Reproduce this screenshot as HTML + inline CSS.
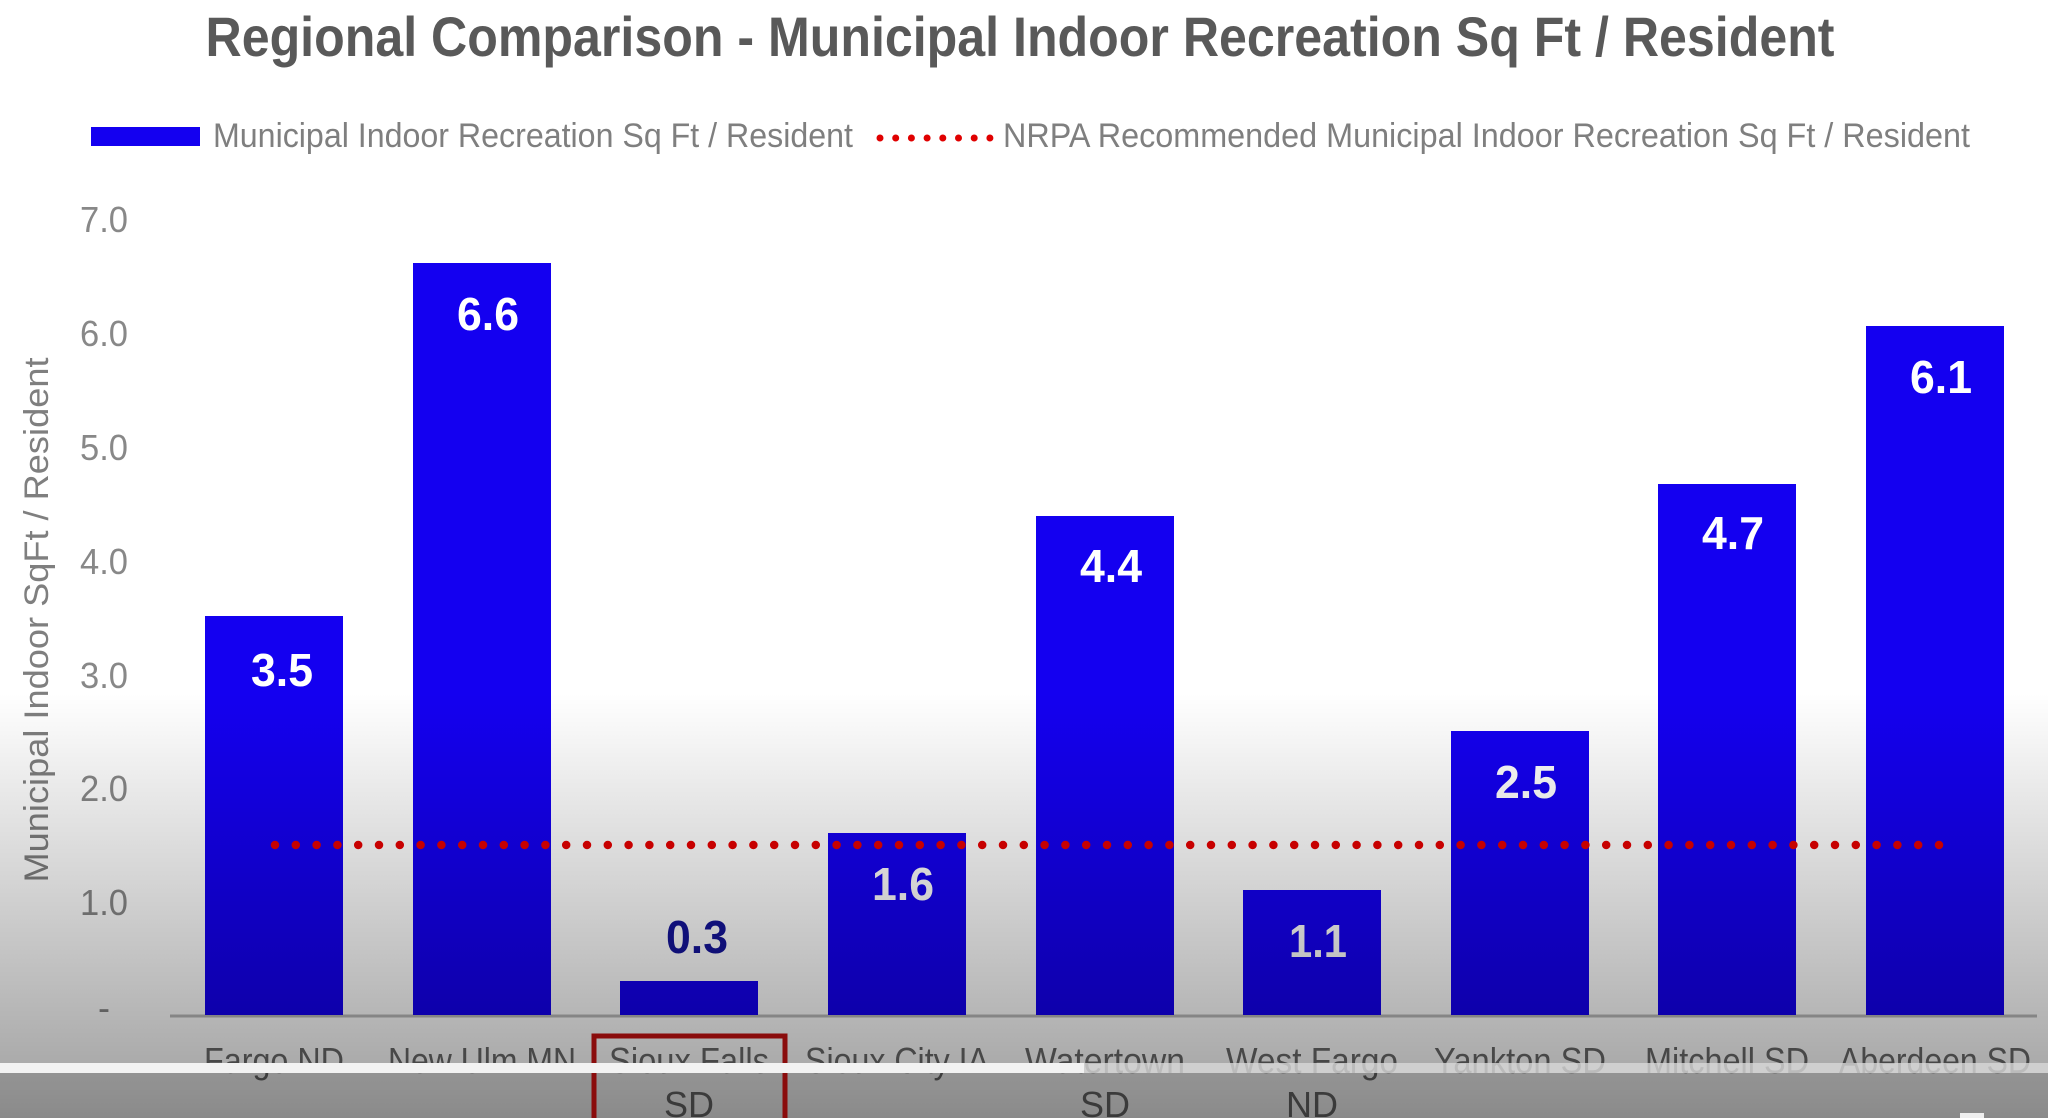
<!DOCTYPE html>
<html><head><meta charset="utf-8"><style>html,body{margin:0;padding:0;background:#fff}svg{display:block}</style></head>
<body>
<svg width="2048" height="1118" viewBox="0 0 2048 1118" xmlns="http://www.w3.org/2000/svg" font-family="Liberation Sans, Arial, sans-serif">
<defs>
<linearGradient id="shade" x1="0" y1="0" x2="0" y2="1118" gradientUnits="userSpaceOnUse">
<stop offset="0.62" stop-color="#000" stop-opacity="0"/>
<stop offset="0.95" stop-color="#000" stop-opacity="0.33"/>
<stop offset="1" stop-color="#000" stop-opacity="0.38"/>
</linearGradient>
</defs>
<rect width="2048" height="1118" fill="#fff"/>
<text x="1020" y="56" text-anchor="middle" font-size="56" font-weight="bold" fill="#595959" textLength="1629" lengthAdjust="spacingAndGlyphs">Regional Comparison - Municipal Indoor Recreation  Sq Ft / Resident</text>
<rect x="91" y="127" width="109" height="19" fill="#1400f0"/>
<text x="213" y="147" font-size="34" fill="#7f7f7f" textLength="640" lengthAdjust="spacingAndGlyphs">Municipal Indoor Recreation Sq Ft / Resident</text>
<line x1="880" y1="138" x2="990" y2="138" stroke="#e00000" stroke-width="7" stroke-linecap="round" stroke-dasharray="0 15.7"/>
<text x="1003" y="147" font-size="34" fill="#7f7f7f" textLength="967" lengthAdjust="spacingAndGlyphs">NRPA Recommended Municipal Indoor Recreation Sq Ft / Resident</text>
<g font-size="36" fill="#888" text-anchor="end">
<text x="128" y="232" textLength="48" lengthAdjust="spacingAndGlyphs">7.0</text>
<text x="128" y="346" textLength="48" lengthAdjust="spacingAndGlyphs">6.0</text>
<text x="128" y="460" textLength="48" lengthAdjust="spacingAndGlyphs">5.0</text>
<text x="128" y="574" textLength="48" lengthAdjust="spacingAndGlyphs">4.0</text>
<text x="128" y="688" textLength="48" lengthAdjust="spacingAndGlyphs">3.0</text>
<text x="128" y="801" textLength="48" lengthAdjust="spacingAndGlyphs">2.0</text>
<text x="128" y="915" textLength="48" lengthAdjust="spacingAndGlyphs">1.0</text>
<text x="110" y="1020">-</text>
</g>
<text transform="translate(48,620) rotate(-90)" text-anchor="middle" font-size="34" fill="#7f7f7f" textLength="525" lengthAdjust="spacingAndGlyphs">Municipal Indoor SqFt / Resident</text>
<line x1="170" y1="1016" x2="2037" y2="1016" stroke="#bbb" stroke-width="3"/>
<g fill="#1400f0">
<rect x="205" y="616" width="138" height="399"/>
<rect x="413" y="263" width="138" height="752"/>
<rect x="620" y="981" width="138" height="34"/>
<rect x="828" y="833" width="138" height="182"/>
<rect x="1036" y="516" width="138" height="499"/>
<rect x="1243" y="890" width="138" height="125"/>
<rect x="1451" y="731" width="138" height="284"/>
<rect x="1658" y="484" width="138" height="531"/>
<rect x="1866" y="326" width="138" height="689"/>
</g>
<line x1="275" y1="845" x2="1940" y2="845" stroke="#e60000" stroke-width="8.5" stroke-linecap="round" stroke-dasharray="0 20.8"/>
<g font-size="46" font-weight="bold" fill="#fff" text-anchor="middle">
<text x="282" y="686" textLength="62" lengthAdjust="spacingAndGlyphs">3.5</text>
<text x="488" y="330" textLength="62" lengthAdjust="spacingAndGlyphs">6.6</text>
<text x="697" y="953" fill="#14149a" textLength="62" lengthAdjust="spacingAndGlyphs">0.3</text>
<text x="903" y="900" textLength="62" lengthAdjust="spacingAndGlyphs">1.6</text>
<text x="1111" y="582" textLength="62" lengthAdjust="spacingAndGlyphs">4.4</text>
<text x="1318" y="957" textLength="58" lengthAdjust="spacingAndGlyphs">1.1</text>
<text x="1526" y="798" textLength="62" lengthAdjust="spacingAndGlyphs">2.5</text>
<text x="1733" y="549" textLength="62" lengthAdjust="spacingAndGlyphs">4.7</text>
<text x="1941" y="393" textLength="62" lengthAdjust="spacingAndGlyphs">6.1</text>
</g>
<g font-size="36" fill="#6a6a6a" text-anchor="middle">
<text x="274" y="1073" textLength="140" lengthAdjust="spacingAndGlyphs">Fargo ND</text>
<text x="482" y="1073" textLength="188" lengthAdjust="spacingAndGlyphs">New Ulm MN</text>
<text x="689" y="1073" textLength="160" lengthAdjust="spacingAndGlyphs">Sioux Falls</text>
<text x="689" y="1117">SD</text>
<text x="897" y="1073" textLength="184" lengthAdjust="spacingAndGlyphs">Sioux City IA</text>
<text x="1105" y="1073" textLength="160" lengthAdjust="spacingAndGlyphs">Watertown</text>
<text x="1105" y="1117">SD</text>
<text x="1312" y="1073" textLength="172" lengthAdjust="spacingAndGlyphs">West Fargo</text>
<text x="1312" y="1117">ND</text>
<text x="1520" y="1073" textLength="172" lengthAdjust="spacingAndGlyphs">Yankton SD</text>
<text x="1727" y="1073" textLength="164" lengthAdjust="spacingAndGlyphs">Mitchell SD</text>
<text x="1935" y="1073" textLength="192" lengthAdjust="spacingAndGlyphs">Aberdeen SD</text>
</g>
<rect width="2048" height="1118" fill="url(#shade)"/>
<rect x="0" y="1073" width="2048" height="45" fill="#000" opacity="0.12"/>
<rect x="594" y="1036" width="191" height="90" fill="none" stroke="#8a0c0c" stroke-width="5"/>
<rect x="0" y="1063" width="1084" height="10" fill="#f2f2f2"/>
<rect x="1084" y="1063" width="964" height="10" fill="#d8d8d8" opacity="0.8"/>
<rect x="1960" y="1113" width="24" height="5" fill="#eee"/>
</svg>
</body></html>
